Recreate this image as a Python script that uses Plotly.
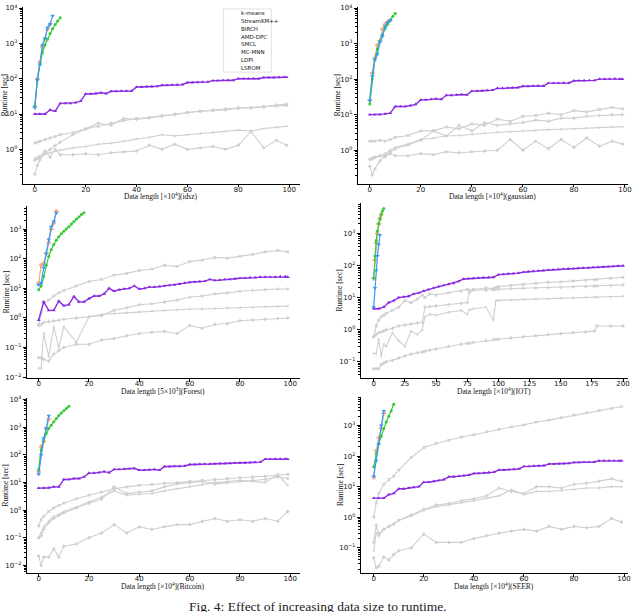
import plotly.graph_objects as go

# gray baselines are read on this x grid (0..99); IOT has its own grid (0..200)
grid = [0, 1, 2, 4, 6, 8, 10, 15, 20, 25, 30, 35, 40, 45, 50, 55, 60, 65, 70, 75, 80, 85, 90, 95, 99]
grid_iot = [0, 2, 4, 6, 8, 10, 15, 20, 25, 30, 35, 39, 41, 45, 50, 60, 70, 75, 77, 80,
            90, 96, 98, 100, 110, 120, 130, 140, 150, 160, 170, 177, 179, 190, 200]
lsrom_x = list(range(0, 100, 2)) + [99]
lsrom_x_iot = list(range(0, 201, 4))

# ---- idsz ----
idsz_kmeans = [1.5, 1.6, 1.7, 1.9, 2.1, 2.3, 2.6, 3.0, 3.8, 4.5, 5.5, 6.5, 7.5, 7.8, 8.8, 10, 11, 12, 12.5, 13, 14.5, 15, 16, 17, 17.5]
idsz_streamkm = [0.2, 0.35, 0.5, 0.75, 1.0, 1.3, 1.6, 2.6, 3.8, 5.5, 4.8, 7.5, 7.0, 8, 9, 9.5, 11, 12, 13, 14, 15, 15, 16, 18, 19]
idsz_birch = [0.55, 0.6, 0.65, 0.75, 0.8, 0.9, 0.95, 1.1, 1.2, 1.4, 1.5, 1.7, 2.0, 2.2, 2.6, 2.4, 2.6, 2.8, 3.0, 3.2, 3.5, 3.3, 3.9, 4.2, 4.5]
idsz_amddpc = [0.5, 0.55, 0.6, 0.9, 0.6, 1.0, 0.7, 0.7, 0.75, 0.7, 0.8, 0.85, 0.9, 1.3, 1.0, 1.4, 1.0, 1.1, 1.2, 1.0, 1.3, 3.2, 1.1, 1.8, 1.3]
idsz_smcl = [16, 100, 300, 800, 1300, 2500, 3500]
idsz_mcmnn = [17, 95, 250, 550, 900, 1300, 1900, 2600, 3400, 4300, 5300]
idsz_ldpi = [15, 90, 250, 900, 1400, 2800, 3500, 6000]
idsz_lsrom = [10, 10, 10, 13, 12, 20, 20, 20, 21, 23, 37, 37, 38, 40, 38, 44, 44, 45, 45, 45,
              58, 58, 60, 60, 61, 65, 65, 66, 67, 68, 78, 78, 79, 80, 81, 88, 88, 89, 90, 90,
              100, 100, 100, 101, 100, 108, 108, 108, 109, 110, 110]

# ---- gaussian ----
gauss_kmeans = [1.8, 1.8, 1.8, 1.9, 1.8, 2.0, 2.3, 2.6, 3.5, 3.5, 4.5, 4.0, 5.5, 5.0, 7.5, 6.5, 9.0, 9.5, 11, 10, 13, 12, 14, 16, 14.5]
gauss_streamkm = [0.35, 0.2, 0.3, 0.5, 0.7, 0.9, 1.1, 1.4, 1.9, 3.5, 2.5, 5.0, 3.5, 6.0, 5.0, 5.5, 6.0, 7.0, 6.5, 8, 8, 9, 9.5, 10, 10]
gauss_birch = [0.55, 0.55, 0.6, 0.7, 0.8, 1.0, 1.2, 1.5, 2.0, 2.2, 2.5, 2.6, 2.8, 3.0, 3.2, 3.3, 3.5, 3.6, 3.8, 3.9, 4.0, 4.2, 4.3, 4.5, 4.6]
gauss_amddpc = [0.55, 0.6, 0.65, 0.7, 0.65, 0.8, 0.7, 0.7, 0.8, 0.75, 0.9, 0.85, 0.9, 0.95, 1.0, 2.0, 1.0, 1.8, 1.1, 2.0, 1.2, 2.2, 1.3, 1.8, 1.5]
gauss_smcl = [25, 150, 400, 900, 1200, 2500, 3500, 4000, 4500]
gauss_mcmnn = [20, 100, 350, 700, 1200, 1800, 2600, 3500, 4500, 5800, 7000]
gauss_ldpi = [25, 120, 350, 500, 1100, 1600, 3000, 4000, 4500]
gauss_lsrom = [10, 10, 10, 10.5, 11, 17, 17, 17, 18, 19.5, 26, 26, 27, 28, 27, 35, 35, 36, 37, 36,
               46, 46, 47, 48, 49, 55, 55, 56, 57, 58, 63, 63, 64, 65, 64, 77, 77, 77, 78, 78,
               90, 90, 91, 92, 92, 100, 100, 101, 103, 100, 100]

# ---- Forest ----
forest_kmeans = [0.6, 1.5, 3.2, 4.0, 5.5, 7.0, 8.5, 12, 17, 20, 28, 32, 40, 45, 60, 55, 80, 90, 110, 105, 120, 140, 170, 190, 170]
forest_streamkm = [0.55, 0.6, 0.7, 0.75, 0.8, 0.85, 0.9, 1.0, 1.1, 1.2, 1.8, 2.2, 2.8, 3.0, 3.5, 4.0, 5.0, 5.5, 6.5, 7.0, 8.0, 8.5, 9.0, 9.5, 9.5]
forest_birch = [0.02, 0.02, 0.3, 0.05, 0.5, 0.1, 0.5, 0.15, 1.1, 1.3, 1.4, 1.5, 1.6, 1.7, 1.8, 1.9, 2.0, 2.0, 2.1, 2.2, 2.2, 2.3, 2.4, 2.5, 2.5]
forest_amddpc = [0.045, 0.045, 0.04, 0.035, 0.06, 0.08, 0.1, 0.13, 0.13, 0.18, 0.2, 0.25, 0.3, 0.33, 0.35, 0.3, 0.55, 0.45, 0.6, 0.65, 0.8, 0.85, 0.9, 0.95, 1.0]
forest_smcl = [15, 60, 70, 150, 350, 1000, 1600, 4000]
forest_mcmnn = [9, 12, 25, 60, 120, 200, 300, 420, 550, 700, 850, 1000, 1200, 1500, 1800, 2200, 2600, 3100, 3600]
forest_ldpi = [13, 15, 50, 150, 450, 1200, 1800, 3500]
forest_lsrom = [0.85, 3.5, 1.8, 1.8, 3.7, 2.6, 2.8, 5.3, 3.5, 3.5, 4.5, 5.5, 5.5, 6.5, 10, 8, 9, 9.5, 10, 12,
                9.5, 10, 11, 11, 11.5, 12, 12.5, 13, 14, 15, 16, 16.5, 17, 17.5, 20, 18.5, 19, 20, 20, 21,
                22, 22, 23, 23, 24, 24, 24, 24, 25, 25, 24]

# ---- IOT ----
iot_kmeans = [0.6, 1.3, 2.0, 2.5, 2.8, 3.2, 4.0, 5.0, 8.0, 7.0, 9.0, 12, 10, 13, 12, 14, 16, 18, 15, 18,
              20, 19, 21, 22, 24, 26, 28, 30, 31, 33, 35, 36, 37, 40, 43]
iot_streamkm = [0.6, 0.7, 0.8, 0.85, 0.9, 1.0, 1.1, 1.3, 1.4, 1.5, 1.6, 1.7, 5.0, 5.2, 5.5, 6.0, 6.5, 7.0, 17, 17,
                17, 17.5, 18, 18, 19, 19.5, 20, 20.5, 21, 21.5, 22, 22.5, 23, 24, 25]
iot_birch = [0.18, 0.18, 0.5, 0.15, 0.35, 0.3, 0.8, 0.45, 0.3, 0.9, 0.7, 1.0, 2.5, 3.0, 2.8, 3.5, 4.0, 3.0, 4.2, 4.5,
             5.0, 2.0, 8.0, 8.2, 8.5, 8.7, 9.0, 9.2, 9.5, 9.7, 10, 10.2, 10.4, 10.7, 11]
iot_amddpc = [0.06, 0.06, 0.06, 0.08, 0.09, 0.1, 0.11, 0.13, 0.15, 0.17, 0.19, 0.2, 0.21, 0.23, 0.25, 0.3, 0.35, 0.37, 0.38, 0.4,
              0.45, 0.48, 0.5, 0.5, 0.55, 0.6, 0.65, 0.7, 0.75, 0.8, 0.85, 0.9, 1.3, 1.3, 1.3]
iot_smcl = [40, 150, 500, 1000, 2000, 3000, 4000]
iot_mcmnn = [40, 200, 600, 1200, 2000, 2800, 3800, 5000, 6000]
iot_ldpi = [5, 20, 70, 200, 450, 900]
iot_lsrom = [4.5, 4.5, 5, 7, 8, 10, 10.5, 11, 13, 14, 16, 18, 20, 22, 24, 26, 28, 32, 38, 39,
             40, 41, 42, 42, 43, 52, 53, 55, 56, 58, 62, 65, 66, 68, 70, 72, 74, 76, 78, 79,
             80, 82, 84, 85, 87, 88, 90, 92, 94, 96, 98]

# ---- Bitcoin ----
btc_kmeans = [0.27, 0.45, 0.6, 0.9, 1.2, 1.5, 1.8, 2.6, 3.5, 4.5, 6.0, 7.0, 8.0, 8.5, 9.5, 10, 11, 12, 13, 14, 15, 16, 17, 18, 20]
btc_streamkm = [0.1, 0.12, 0.2, 0.35, 0.5, 0.65, 0.8, 1.2, 1.8, 2.5, 7.0, 4.0, 4.5, 5.0, 7.0, 9.0, 10, 11, 9.0, 10, 11, 12, 13, 16, 14]
btc_birch = [0.1, 0.15, 0.25, 0.4, 0.6, 0.7, 0.9, 1.3, 2.0, 3.0, 5.0, 3.5, 3.8, 4.0, 5.0, 6.0, 7.0, 8.5, 10, 11, 12, 11, 10, 20, 8.0]
btc_amddpc = [0.022, 0.01, 0.02, 0.02, 0.04, 0.02, 0.05, 0.06, 0.1, 0.15, 0.3, 0.15, 0.25, 0.2, 0.25, 0.3, 0.3, 0.4, 0.5, 0.4, 0.45, 0.4, 0.5, 0.4, 0.9]
btc_smcl = [25, 200, 300, 900, 2000]
btc_mcmnn = [30, 150, 350, 600, 900, 1200, 1600, 2100, 2700, 3300, 4000, 4800, 5800]
btc_ldpi = [20, 100, 400, 900, 2600]
btc_lsrom = [6.3, 6.3, 6.5, 7, 7, 13, 13, 14, 14, 16, 22, 22, 23, 25, 23, 30, 30, 31, 32, 33,
             28, 28, 29, 30, 28, 38, 38, 39, 39, 40, 45, 45, 46, 47, 47, 48, 49, 49, 50, 51,
             52, 52, 53, 54, 55, 70, 70, 71, 72, 72, 70]

# ---- SEER ----
seer_kmeans = [1.0, 3.0, 6.0, 12, 17, 22, 35, 90, 190, 260, 330, 420, 500, 620, 750, 900, 1050, 1300, 1500, 1800, 2200, 2600, 3100, 3600, 4200]
seer_streamkm = [0.15, 0.55, 0.25, 0.4, 0.5, 0.6, 0.8, 1.2, 1.8, 2.5, 2.8, 3.5, 4.0, 5.0, 9.0, 7.0, 6.0, 10, 10, 9.0, 12, 13, 15, 18, 15]
seer_birch = [0.08, 0.3, 0.3, 0.4, 0.5, 0.6, 0.8, 1.1, 1.7, 2.2, 2.5, 3.0, 3.5, 4.2, 5.0, 8.0, 5.5, 7.0, 7.0, 7.5, 8.0, 9.0, 9.0, 10, 10]
seer_amddpc = [0.047, 0.022, 0.025, 0.05, 0.04, 0.06, 0.08, 0.1, 0.28, 0.15, 0.15, 0.15, 0.2, 0.25, 0.3, 0.35, 0.4, 0.35, 0.5, 0.4, 0.5, 0.45, 0.5, 0.9, 0.7]
seer_smcl = [20, 150, 400, 800, 2500]
seer_mcmnn = [45, 120, 250, 450, 800, 1300, 2000, 3000, 5000]
seer_ldpi = [22, 70, 250, 1000, 3000]
seer_lsrom = [4.2, 4.2, 4.2, 5.5, 6, 8.5, 8.5, 9, 9.5, 10, 14, 14, 15, 16, 17, 21, 21, 22, 23, 24,
              27, 27, 28, 29, 30, 35, 35, 36, 37, 38, 46, 46, 47, 48, 49, 55, 55, 56, 57, 58,
              62, 62, 63, 63, 64, 70, 70, 70, 71, 70, 70]

names = ["k-means", "StreamKM++", "BIRCH", "AMD-DPC", "SMCL", "MC-MNN", "LDPI", "LSROM"]
GRAY = "#cfcfcf"
colors = [GRAY, GRAY, GRAY, GRAY, "#f4a582", "#33cc33", "#2f9bff", "#8a2be2"]
symbols = ["x", "cross", "triangle-left", "diamond", "cross", "circle", "triangle-down", "triangle-up"]
sizes = [3, 3, 3, 3, 4, 3, 4, 3.5]
widths = [1.1, 1.1, 1.1, 1.1, 1.2, 1.2, 1.2, 1.4]

panels = [
    # grid, grays, lsrom x, lsrom, smcl, mcmnn, ldpi, x label
    (grid, [idsz_kmeans, idsz_streamkm, idsz_birch, idsz_amddpc], lsrom_x, idsz_lsrom,
     idsz_smcl, idsz_mcmnn, idsz_ldpi, "Data length [×10<sup>4</sup>](idsz)"),
    (grid, [gauss_kmeans, gauss_streamkm, gauss_birch, gauss_amddpc], lsrom_x, gauss_lsrom,
     gauss_smcl, gauss_mcmnn, gauss_ldpi, "Data length [×10<sup>4</sup>](gaussian)"),
    (grid, [forest_kmeans, forest_streamkm, forest_birch, forest_amddpc], lsrom_x, forest_lsrom,
     forest_smcl, forest_mcmnn, forest_ldpi, "Data length [5×10<sup>3</sup>](Forest)"),
    (grid_iot, [iot_kmeans, iot_streamkm, iot_birch, iot_amddpc], lsrom_x_iot, iot_lsrom,
     iot_smcl, iot_mcmnn, iot_ldpi, "Data length [×10<sup>4</sup>](IOT)"),
    (grid, [btc_kmeans, btc_streamkm, btc_birch, btc_amddpc], lsrom_x, btc_lsrom,
     btc_smcl, btc_mcmnn, btc_ldpi, "Data length [×10<sup>4</sup>](Bitcoin)"),
    (grid, [seer_kmeans, seer_streamkm, seer_birch, seer_amddpc], lsrom_x, seer_lsrom,
     seer_smcl, seer_mcmnn, seer_ldpi, "Data length [×10<sup>4</sup>](SEER)"),
]

# axes boxes in pixels (left, right, top, bottom) and ranges
W, H = 640, 612
boxes = [(23, 302, 3, 182), (360, 632, 3, 182), (27, 302, 205, 379),
         (363, 632, 202, 379), (27, 302, 399, 577), (363, 632, 398, 577)]
xranges = [[-4.7, 104.3], [-4.7, 101.2], [-4.7, 103.9], [-10.4, 204], [-4.7, 103.9], [-5.2, 101.6]]
yranges = [[-0.97, 4.03], [-0.94, 4.03], [-2.03, 3.77], [-1.51, 3.94], [-2.29, 4.07], [-1.84, 3.94]]

fig = go.Figure()
layout = dict(width=W, height=H, margin=dict(l=0, r=0, t=0, b=0),
              paper_bgcolor="white", plot_bgcolor="white", showlegend=False)

tick_font = dict(family="DejaVu Sans", size=7, color="#111")
exps = list(range(-3, 5))
ytv = [10 ** e for e in exps]
ytt = ["10<sup>%s</sup>" % (str(e) if e >= 0 else "\u2212" + str(-e)) for e in exps]
minor_tv = [m * 10 ** e for e in exps for m in range(2, 10)]
annotations = []

for k, (gx, grays, lx, ly, smcl, mcmnn, ldpi, xlabel) in enumerate(panels, 1):
    xa = "x" if k == 1 else "x%d" % k
    ya = "y" if k == 1 else "y%d" % k
    series = [(gx, g) for g in grays] + [
        (list(range(len(smcl))), smcl),
        (list(range(len(mcmnn))), mcmnn),
        (list(range(len(ldpi))), ldpi),
        (lx, ly),
    ]
    for i, (sx, sy) in enumerate(series):
        fig.add_trace(go.Scatter(
            x=sx, y=sy, xaxis=xa, yaxis=ya, name=names[i], mode="lines+markers",
            line=dict(color=colors[i], width=widths[i]),
            marker=dict(symbol=symbols[i], size=sizes[i], color=colors[i],
                        line=dict(width=0)),
            hoverinfo="skip",
        ))
    l, r, t, b = boxes[k - 1]
    xdom = [l / W, r / W]
    ydom = [1 - b / H, 1 - t / H]
    xtv = list(range(0, 201, 25)) if k == 4 else list(range(0, 101, 20))
    layout["xaxis" if k == 1 else "xaxis%d" % k] = dict(
        domain=xdom, range=xranges[k - 1], anchor=ya, showgrid=False, zeroline=False,
        showline=True, linecolor="black", linewidth=1, ticks="outside", ticklen=2.5,
        tickwidth=0.8, tickcolor="black", tickmode="array", tickvals=xtv,
        tickfont=tick_font, ticklabelstandoff=-4,
    )
    layout["yaxis" if k == 1 else "yaxis%d" % k] = dict(
        domain=ydom, range=yranges[k - 1], type="log", anchor=xa, showgrid=False,
        zeroline=False, showline=True, linecolor="black", linewidth=1, ticks="outside",
        ticklen=3, tickwidth=0.8, tickcolor="black", tickmode="array", tickvals=ytv,
        ticktext=ytt, tickfont=tick_font,
        minor=dict(tickmode="array", tickvals=minor_tv, ticks="outside", ticklen=1.6,
                   tickwidth=0.5, tickcolor="black"),
    )
    # axis titles
    annotations.append(dict(text=xlabel, xref="paper", yref="paper", x=(l + r) / 2 / W,
                            y=1 - (b + 13) / H, showarrow=False, xanchor="center",
                            yanchor="middle",
                            font=dict(family="Liberation Serif", size=7.5, color="#111")))
    annotations.append(dict(text="Runtime [sec]", xref="paper", yref="paper",
                            x=max(l - 21, 4) / W, y=1 - (t + b) / 2 / H, showarrow=False,
                            textangle=-90, xanchor="center", yanchor="middle",
                            font=dict(family="Liberation Serif", size=7.5, color="#111")))

# legend drawn on its own small axis inside the first panel
lg_l, lg_r, lg_t, lg_b = 225, 273, 5, 69
layout["xaxis7"] = dict(domain=[lg_l / W, lg_r / W], range=[0, lg_r - lg_l], visible=False,
                        anchor="y7", fixedrange=True)
layout["yaxis7"] = dict(domain=[1 - lg_b / H, 1 - lg_t / H], range=[lg_b - lg_t, 0],
                        visible=False, anchor="x7", fixedrange=True)
shapes = [dict(type="rect", xref="paper", yref="paper", x0=lg_l / W, x1=lg_r / W,
               y0=1 - lg_b / H, y1=1 - lg_t / H, line=dict(color="#d9d9d9", width=0.8),
               fillcolor="white", layer="above")]
step = (lg_b - lg_t - 9) / (len(names) - 1)
for i, nm in enumerate(names):
    yy = 4.5 + i * step
    fig.add_trace(go.Scatter(
        x=[2, 7, 12], y=[yy, yy, yy], xaxis="x7", yaxis="y7", mode="lines",
        line=dict(color=colors[i], width=widths[i]), hoverinfo="skip"))
    fig.add_trace(go.Scatter(
        x=[7], y=[yy], xaxis="x7", yaxis="y7", mode="markers",
        marker=dict(symbol=symbols[i], size=sizes[i] + 0.5, color=colors[i]),
        hoverinfo="skip"))
    annotations.append(dict(text=nm, xref="x7", yref="y7", x=15, y=yy, showarrow=False,
                            xanchor="left", yanchor="middle",
                            font=dict(family="DejaVu Sans", size=5.5, color="#111")))

annotations.append(dict(text="Fig. 4: Effect of increasing data size to runtime.",
                        xref="paper", yref="paper", x=320 / W, y=1 - 610 / H,
                        showarrow=False, xanchor="center", yanchor="middle",
                        font=dict(family="Liberation Serif", size=13.5, color="#222")))

layout["annotations"] = annotations
layout["shapes"] = shapes
fig.update_layout(**layout)
# drop the browser's default body margin so the 640x612 figure fills the window
fig.write_html("out.html", config={"displayModeBar": False},
               post_script="document.body.style.margin='0';")
